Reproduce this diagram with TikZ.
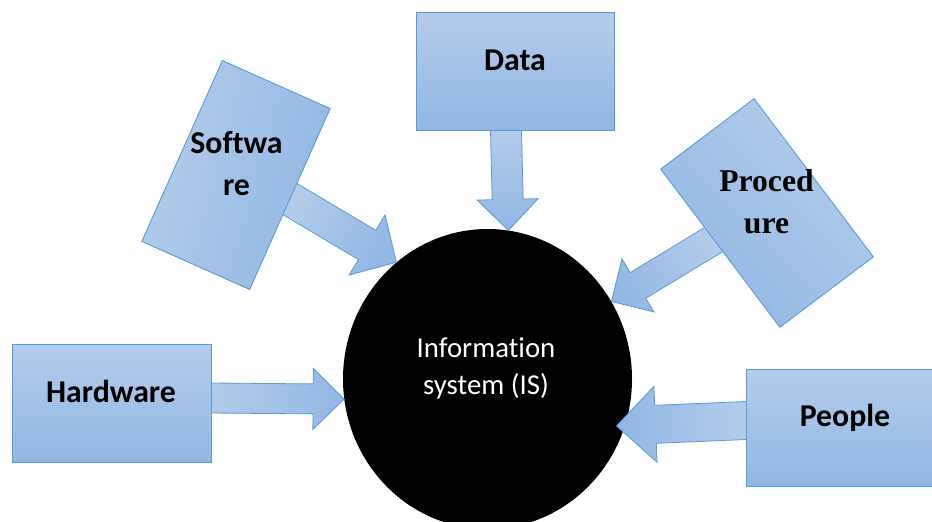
\documentclass[tikz,border=0pt]{standalone}
\usepackage{fontspec}
\setmainfont{Carlito}[Ligatures=NoCommon]
\newfontfamily\serifbf{Liberation Serif}
\usetikzlibrary{calc,shapes.geometric}
\definecolor{boxtop}{RGB}{180,204,234}
\definecolor{boxbot}{RGB}{146,183,227}
\definecolor{boxline}{RGB}{91,155,213}
\pgfdeclarelayer{back}
\pgfdeclarelayer{mid}
\pgfsetlayers{back,mid,main}
\tikzset{
  box/.style={draw=boxline, line width=0.9pt, top color=boxtop, bottom color=boxbot,
    minimum width=198pt, minimum height=118pt, inner sep=0pt, outer sep=0pt},
  lbl/.style={font=\bfseries\fontsize{31.8}{42}\selectfont, align=center, inner sep=0pt, anchor=base},
  serlbl/.style={font=\serifbf\bfseries\fontsize{31.7}{41.7}\selectfont, align=center, inner sep=0pt, anchor=base},
  istext/.style={text=white, font=\fontsize{28.8}{37}\selectfont, align=center, inner sep=0pt, anchor=base},
  arr/.style={draw=boxline, line width=0.8pt, top color=boxtop, bottom color=boxbot},
}
\newcommand\blockarr[6]{%
  \coordinate (ba-t) at ($(#1)!-3pt!(#2)$);
  \coordinate (ba-h) at ($(#2)!#5pt!(#1)$);
  \path[arr, shading angle=#6]
    ($(ba-t)!#3pt!90:(#2)$) -- ($(ba-h)!#3pt!90:(#2)$) -- ($(ba-h)!#4pt!90:(#2)$)
    -- (#2) -- ($(ba-h)!#4pt!-90:(#2)$) -- ($(ba-h)!#3pt!-90:(#2)$)
    -- ($(ba-t)!#3pt!-90:(#2)$) -- cycle;
}
\begin{document}
\begin{tikzpicture}[x=1pt,y=-1pt]
\useasboundingbox (0,0) rectangle (932,522);
\clip (0,0) rectangle (932,522);
\begin{pgfonlayer}{back}
  \node[ellipse, fill=black, minimum width=289pt, minimum height=300pt, inner sep=0pt] (is) at (487.5,379) {};
\end{pgfonlayer}
\node[istext] (ist) at (486,394) {Information\\system (IS)};

% boxes
\node[box] (data) at (515,71) {};
\node[lbl] (datat) at (515,70) {Data};
\node[box, minimum width=199pt] (hw) at (111.5,403) {};
\node[lbl] (hwt) at (111,402.7) {Hardware};
\node[box, minimum height=117pt] (people) at (845,427.5) {};
\node[lbl] (peoplet) at (845,426.7) {People};
\node[box, minimum width=118pt, minimum height=198pt, rotate=-24, shading angle=75] (sw) at (236,175) {};
\node[lbl] (swt) at (236.5,195) {Softwa\\re};
\node[box, minimum width=117pt, minimum height=198pt, rotate=37, shading angle=-45] (pr) at (767,213) {};
\node[serlbl] (prt) at (766.5,233.3) {Proced\\ure};

% arrows
\begin{pgfonlayer}{mid}
  \coordinate (dtail) at ($(data.south)+(-9,0)$);
  \coordinate (dtip) at (is.82);
  \blockarr{dtail}{dtip}{15.5}{30.5}{31}{0}
  \coordinate (htail) at ($(hw.east)+(0,-5)$);
  \coordinate (htip) at (is.188);
  \blockarr{htail}{htip}{15}{30.5}{31}{90}
  \coordinate (ptail) at ($(people.west)+(0,-7)$);
  \coordinate (ptip) at ($(is.center)!0.945!(is.-20.5)$);
  \blockarr{ptail}{ptip}{19}{38}{39}{273}
  \coordinate (stail) at (sw.east);
  \coordinate (stip) at (is.128);
  \blockarr{stail}{stip}{17}{35}{34}{60}
  \coordinate (rtail) at ($(pr.west)!0.11!(pr.north west)$);
  \coordinate (rtip) at (is.32);
  \blockarr{rtail}{rtip}{15}{31}{31}{301}
\end{pgfonlayer}
\end{tikzpicture}
\end{document}
